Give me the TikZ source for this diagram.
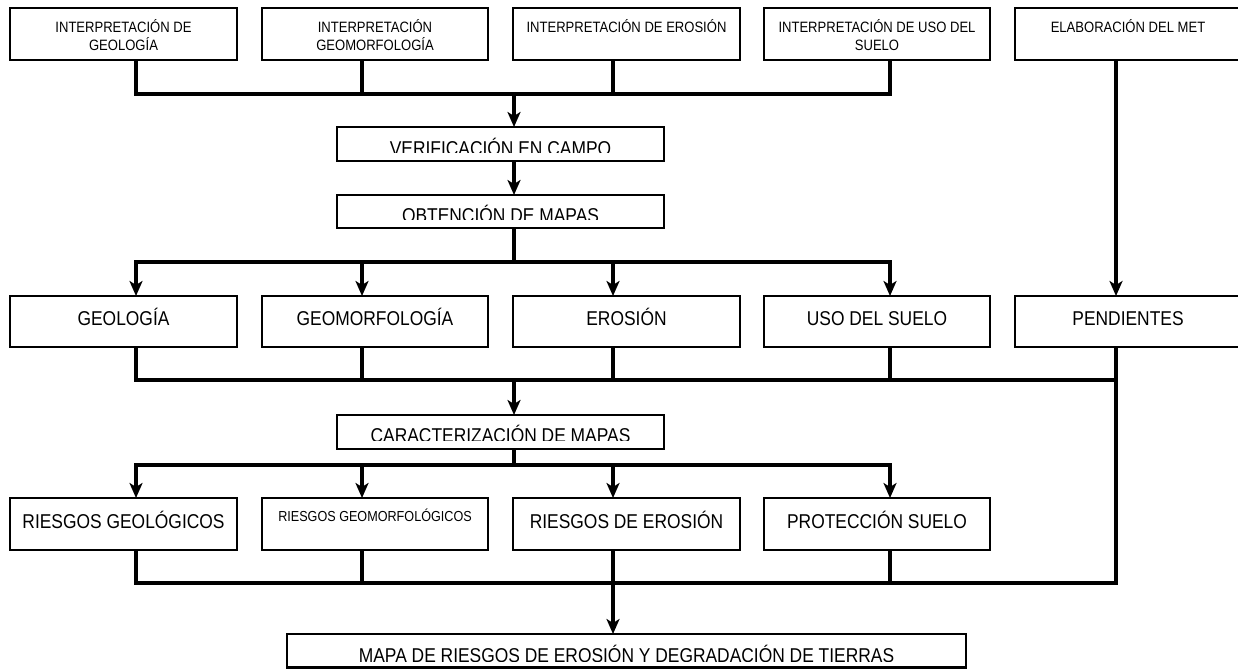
\documentclass[tikz,border=0pt]{standalone}
\usepackage{fontspec}
\setmainfont{Liberation Sans}[FakeStretch=0.87]
\usetikzlibrary{arrows.meta}
\newcommand{\szsmall}{\fontsize{15}{18}\selectfont}
\newcommand{\szmid}{\fontsize{14.5}{17}\selectfont}
\newcommand{\szbig}{\fontsize{20}{24}\selectfont}
\begin{document}
\begin{tikzpicture}[x=1pt,y=-1pt,
  box/.style={draw=black, line width=2.2pt, inner sep=0pt, outer sep=0pt, fill=white},
  conn/.style={line width=3.5pt, line join=miter},
  arr/.style={conn, -{Stealth[length=15pt,width=13pt,inset=4pt]}},
  lbl/.style={inner sep=0pt, outer sep=0pt, anchor=base},
  txtS/.style={lbl, font=\szsmall},
  txtM/.style={lbl, font=\szmid},
  txtL/.style={lbl, font=\szbig}]
\useasboundingbox (0,0) rectangle (1238,669);

% column and bus reference points
\coordinate (x1) at (136,0);
\coordinate (x2) at (362,0);
\coordinate (x3) at (613,0);
\coordinate (x4) at (890,0);
\coordinate (x5) at (1116,0);
\coordinate (bus1) at (514,94);
\coordinate (bus2) at (514,262);
\coordinate (bus3) at (514,380);
\coordinate (bus4) at (514,465);
\coordinate (bus5) at (613,583);

% row 1: interpretation boxes
\node[box, minimum width=227pt, minimum height=52pt] (b1) at (123.5,34) {};
\node[box, minimum width=226pt, minimum height=52pt] (b2) at (375,34) {};
\node[box, minimum width=227pt, minimum height=52pt] (b3) at (626.5,34) {};
\node[box, minimum width=226pt, minimum height=52pt] (b4) at (877,34) {};
\node[box, minimum width=226pt, minimum height=52pt] (b5) at (1128,34) {};
\node[txtS] (b1a) at (123.5,32.7) {INTERPRETACIÓN DE};
\node[txtS] (b1b) at (123.5,51) {GEOLOGÍA};
\node[txtS] (b2a) at (375,32.7) {INTERPRETACIÓN};
\node[txtS] (b2b) at (375,51) {GEOMORFOLOGÍA};
\node[txtS] (b3a) at (626.5,32.7) {INTERPRETACIÓN DE EROSIÓN};
\node[txtS] (b4a) at (877,32.7) {INTERPRETACIÓN DE USO DEL};
\node[txtS] (b4b) at (877,51) {SUELO};
\node[txtS] (b5a) at (1128,32.7) {ELABORACIÓN DEL MET};

% middle boxes
\node[box, minimum width=327pt, minimum height=34pt] (verif) at (500.5,144) {};
\node[box, minimum width=327pt, minimum height=33pt] (obten) at (500.5,211.5) {};
\node[box, minimum width=327pt, minimum height=34pt] (caract) at (500.5,432) {};
\node[box, minimum width=679pt, minimum height=33.5pt] (mapa) at (626.5,650.75) {};

\begin{scope}
  \clip (337,127) rectangle (664,152.6);
  \node[txtL] (verif-t) at (500.5,155.8) {VERIFICACIÓN EN CAMPO};
\end{scope}
\begin{scope}
  \clip (337,195) rectangle (664,219.6);
  \node[txtL] (obten-t) at (500.5,222.6) {OBTENCIÓN DE MAPAS};
\end{scope}
\begin{scope}
  \clip (337,415) rectangle (664,440);
  \node[txtL] (caract-t) at (500.5,442.6) {CARACTERIZACIÓN DE MAPAS};
\end{scope}
\begin{scope}
  \clip (287,634) rectangle (966,661);
  \node[txtL] (mapa-t) at (626.5,662.6) {MAPA DE RIESGOS DE EROSIÓN Y DEGRADACIÓN DE TIERRAS};
\end{scope}

% row 2: thematic maps
\node[box, minimum width=227pt, minimum height=51pt] (g1) at (123.5,321.5) {};
\node[box, minimum width=226pt, minimum height=51pt] (g2) at (375,321.5) {};
\node[box, minimum width=227pt, minimum height=51pt] (g3) at (626.5,321.5) {};
\node[box, minimum width=226pt, minimum height=51pt] (g4) at (877,321.5) {};
\node[box, minimum width=226pt, minimum height=51pt] (g5) at (1128,321.5) {};
\node[txtL] (g1t) at (123.5,325) {GEOLOGÍA};
\node[txtL] (g2t) at (375,325) {GEOMORFOLOGÍA};
\node[txtL] (g3t) at (626.5,325) {EROSIÓN};
\node[txtL] (g4t) at (877,325) {USO DEL SUELO};
\node[txtL] (g5t) at (1128,325) {PENDIENTES};

% row 3: risk maps
\node[box, minimum width=227pt, minimum height=52pt] (r1) at (123.5,524) {};
\node[box, minimum width=226pt, minimum height=52pt] (r2) at (375,524) {};
\node[box, minimum width=227pt, minimum height=52pt] (r3) at (626.5,524) {};
\node[box, minimum width=226pt, minimum height=52pt] (r4) at (877,524) {};
\node[txtL] (r1t) at (123.5,528) {RIESGOS GEOLÓGICOS};
\node[txtM] (r2t) at (375,521.7) {RIESGOS GEOMORFOLÓGICOS};
\node[txtL] (r3t) at (626.5,528) {RIESGOS DE EROSIÓN};
\node[txtL] (r4t) at (877,528) {PROTECCIÓN SUELO};

% row 1 -> field check
\draw[conn] (b1.south -| x1) |- (bus1) -| (b4.south -| x4);
\draw[conn] (b2.south -| x2) -- (x2 |- bus1);
\draw[conn] (b3.south -| x3) -- (x3 |- bus1);
\draw[arr] (bus1) -- (verif.north -| bus1);
\draw[arr] (verif.south -| bus1) -- (obten.north -| bus1);

% maps -> row 2
\draw[arr] (obten.south -| bus2) -- (bus2) -| (g1.north -| x1);
\draw[arr] (bus2) -| (g4.north -| x4);
\draw[arr] (x2 |- bus2) -- (g2.north -| x2);
\draw[arr] (x3 |- bus2) -- (g3.north -| x3);
\draw[arr] (b5.south -| x5) -- (g5.north -| x5);

% row 2 -> characterisation
\draw[conn] (g1.south -| x1) |- (bus3) -- (x5 |- bus3);
\draw[conn] (g2.south -| x2) -- (x2 |- bus3);
\draw[conn] (g3.south -| x3) -- (x3 |- bus3);
\draw[conn] (g4.south -| x4) -- (x4 |- bus3);
\draw[arr] (bus3) -- (caract.north -| bus3);

% characterisation -> row 3
\draw[arr] (caract.south -| bus4) -- (bus4) -| (r1.north -| x1);
\draw[arr] (bus4) -| (r4.north -| x4);
\draw[arr] (x2 |- bus4) -- (r2.north -| x2);
\draw[arr] (x3 |- bus4) -- (r3.north -| x3);

% row 3 and slopes -> final map
\draw[conn] (r1.south -| x1) |- (bus5) -| (g5.south -| x5);
\draw[conn] (r2.south -| x2) -- (x2 |- bus5);
\draw[conn] (r3.south -| x3) -- (x3 |- bus5);
\draw[conn] (r4.south -| x4) -- (x4 |- bus5);
\draw[arr] (bus5) -- (mapa.north -| bus5);
\end{tikzpicture}
\end{document}
